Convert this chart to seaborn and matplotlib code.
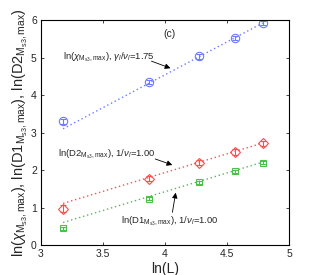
import numpy as np
import pandas as pd
import matplotlib
matplotlib.use("Agg")
import matplotlib.pyplot as plt
import seaborn as sns

sns.set_style("ticks")
plt.rcParams['font.family'] = ['Liberation Sans', 'DejaVu Sans']
plt.rcParams['mathtext.fontset'] = 'custom'
plt.rcParams['mathtext.rm'] = 'Liberation Sans'
plt.rcParams['mathtext.it'] = 'Liberation Sans:italic'
plt.rcParams['mathtext.bf'] = 'Liberation Sans:bold'

lnL = [3.178, 3.871, 4.277, 4.564, 4.787]
chi = [3.30, 4.35, 5.03, 5.52, 5.92]
d2 = [0.97, 1.77, 2.20, 2.48, 2.71]
d1 = [0.45, 1.23, 1.68, 1.97, 2.20]
err_chi = [0.06, 0.06, 0.06, 0.06, 0.06]
err_d2 = [0.10, 0.07, 0.07, 0.07, 0.07]
err_d1 = [0.04, 0.04, 0.04, 0.04, 0.04]

fit_x = [3.178, 4.787]
fit_chi = [3.10, 5.92]
fit_d2 = [1.11, 2.72]
fit_d1 = [0.60, 2.21]

blue = '#6b7bff'
red = '#ff4d4d'
green = '#4cbf4c'

fig = plt.figure(figsize=(3.19, 2.75), dpi=100)
ax = fig.add_axes([0.1285, 0.109, 0.7775, 0.818])

series = [(chi, err_chi, fit_chi, blue, 'o', 6.0),
          (d2, err_d2, fit_d2, red, 'D', 5.0),
          (d1, err_d1, fit_d1, green, 's', 4.5)]
for y, e, fy, c, m, ms in series:
    sns.lineplot(x=fit_x, y=fy, ax=ax, color=c, linestyle=(0, (1, 2)), linewidth=1.0)
    ax.errorbar(lnL, y, yerr=e, fmt=m, color=c, mfc='none', mec=c, ms=ms,
                mew=0.8, elinewidth=0.8, capsize=2, capthick=0.8)

ax.set_xlim(3, 5)
ax.set_ylim(0, 6)
ax.set_xticks([3, 3.5, 4, 4.5, 5])
ax.set_xticklabels(['3', '3.5', '4', '4.5', '5'])
ax.set_yticks([0, 1, 2, 3, 4, 5, 6])
ax.tick_params(direction='in', top=True, right=True, labelsize=7.5, length=2.5, width=0.6, pad=3)
for s in ax.spines.values():
    s.set_linewidth(0.8)
    s.set_color('black')

ax.set_xlabel('ln(L)', fontsize=10, labelpad=2)
ax.set_ylabel(r'ln($\chi_{\mathrm{M_{s3}},\mathrm{max}}$), ln(D1$_{\mathrm{M_{s3}},\mathrm{max}}$), ln(D2$_{\mathrm{M_{s3}},\mathrm{max}}$)',
              fontsize=10.5, labelpad=1)

ax.text(3.99, 5.63, '(c)', fontsize=7.5, va='center')

akw = dict(arrowstyle='-|>', color='black', lw=0.6, mutation_scale=8)
ax.text(3.18, 5.0, r'ln($\chi_{\mathrm{M_{s3}},\mathrm{max}}$), $\gamma_l/\nu_l$=1.75',
        fontsize=6.8, ha='left', va='center')
ax.annotate('', xy=(4.065, 4.69), xytext=(3.87, 4.93), arrowprops=akw)

ax.text(3.135, 2.42, r'ln(D2$_{\mathrm{M_{s3}},\mathrm{max}}$), 1/$\nu_l$=1.00',
        fontsize=6.8, ha='left', va='center')
ax.annotate('', xy=(4.08, 2.11), xytext=(3.9, 2.32), arrowprops=akw)

ax.text(3.645, 0.62, r'ln(D1$_{\mathrm{M_{s3}},\mathrm{max}}$), 1/$\nu_l$=1.00',
        fontsize=6.8, ha='left', va='center')
ax.annotate('', xy=(4.09, 1.47), xytext=(4.056, 0.80), arrowprops=akw)

fig.savefig('out.png', dpi=100)
